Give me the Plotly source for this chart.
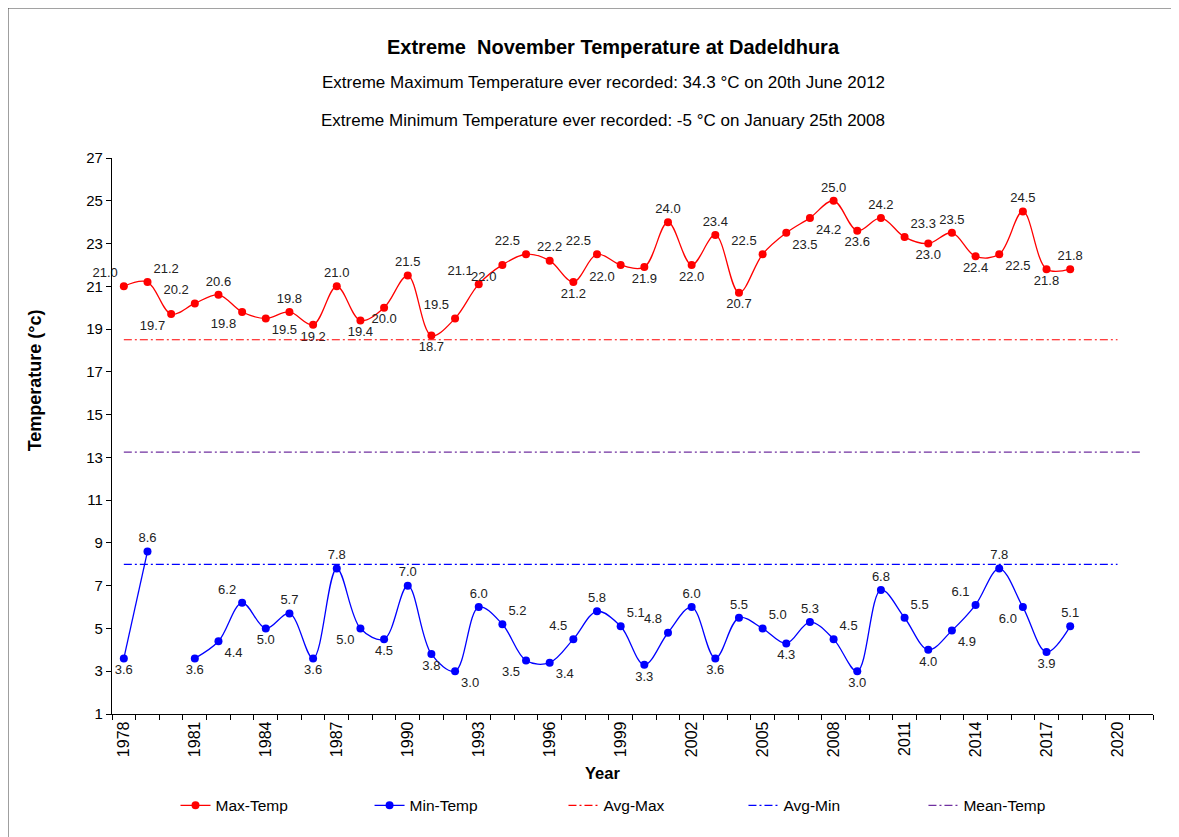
import plotly.graph_objects as go

years = list(range(1978, 2019))
max_temp = [21.0, 21.2, 19.7, 20.2, 20.6, 19.8, 19.5, 19.8, 19.2, 21.0,
            19.4, 20.0, 21.5, 18.7, 19.5, 21.1, 22.0, 22.5, 22.2, 21.2,
            22.5, 22.0, 21.9, 24.0, 22.0, 23.4, 20.7, 22.5, 23.5, 24.2,
            25.0, 23.6, 24.2, 23.3, 23.0, 23.5, 22.4, 22.5, 24.5, 21.8, 21.8]
min_temp = [3.6, 8.6, None, 3.6, 4.4, 6.2, 5.0, 5.7, 3.6, 7.8,
            5.0, 4.5, 7.0, 3.8, 3.0, 6.0, 5.2, 3.5, 3.4, 4.5,
            5.8, 5.1, 3.3, 4.8, 6.0, 3.6, 5.5, 5.0, 4.3, 5.3,
            4.5, 3.0, 6.8, 5.5, 4.0, 4.9, 6.1, 7.8, 6.0, 3.9, 5.1]
avg_max = 18.5
avg_min = 8.0
mean_temp = 13.25
avg_span = [1978, 2020]
mean_span = [1978, 2021]
x_tick_years = list(range(1978, 2021, 3))
y_ticks = list(range(1, 28, 2))

# label placement (style only)
T, B, TL, TR, BL, BR = "top center", "bottom center", "top left", "top right", "bottom left", "bottom right"
max_pos = [TL, TR, BL, TL, T, BL, BR, T, B, T,
           B, B, T, B, TL, TL, BL, TL, T, B,
           TL, BL, B, T, B, T, B, TL, BR, BR,
           T, B, T, TR, B, T, B, BR, T, B, T]
min_pos = [B, T, B, B, BR, TL, B, T, B, T,
           BL, B, T, B, BR, T, TR, BL, BR, TL,
           T, TR, B, TL, T, B, T, TR, B, T,
           TR, B, T, TR, B, BR, TL, T, BL, B, T]

FONT = "Arial, Liberation Sans, sans-serif"
RED = "#FF0000"
BLUE = "#0000FF"
PURPLE = "#7030A0"
DASH = "8px,3px,2px,3px"

fig = go.Figure()

fig.add_trace(go.Scatter(
    x=years, y=max_temp, name="Max-Temp", mode="lines+markers+text",
    line=dict(color=RED, width=1.3, shape="spline", smoothing=1.0),
    marker=dict(color=RED, size=8),
    text=[f"{v:.1f}" for v in max_temp], textposition=max_pos,
    textfont=dict(family=FONT, size=13, color="#222222"),
    legend="legend", cliponaxis=False,
))

fig.add_trace(go.Scatter(
    x=years, y=min_temp, name="Min-Temp", mode="lines+markers+text",
    line=dict(color=BLUE, width=1.3, shape="spline", smoothing=1.0),
    marker=dict(color=BLUE, size=8), connectgaps=False,
    text=[("" if v is None else f"{v:.1f}") for v in min_temp],
    textposition=min_pos,
    textfont=dict(family=FONT, size=13, color="#222222"),
    legend="legend2", cliponaxis=False,
))

fig.add_trace(go.Scatter(
    x=avg_span, y=[avg_max] * 2, name="Avg-Max", mode="lines",
    line=dict(color=RED, width=1.2, dash=DASH), legend="legend3",
))
fig.add_trace(go.Scatter(
    x=avg_span, y=[avg_min] * 2, name="Avg-Min", mode="lines",
    line=dict(color=BLUE, width=1.2, dash=DASH), legend="legend4",
))
fig.add_trace(go.Scatter(
    x=mean_span, y=[mean_temp] * 2, name="Mean-Temp", mode="lines",
    line=dict(color=PURPLE, width=1.2, dash=DASH), legend="legend5",
))

legend_style = dict(orientation="h", y=-0.165, xanchor="left", yanchor="middle",
                    font=dict(family=FONT, size=15.5, color="black"),
                    bgcolor="rgba(0,0,0,0)")

fig.update_layout(
    width=1179, height=837,
    margin=dict(l=104, r=34, t=150, b=131),
    paper_bgcolor="white", plot_bgcolor="white",
    font=dict(family=FONT, size=13, color="black"),
    showlegend=True,
    legend=dict(x=0.061, **legend_style),
    legend2=dict(x=0.2474, **legend_style),
    legend3=dict(x=0.4337, **legend_style),
    legend4=dict(x=0.6066, **legend_style),
    legend5=dict(x=0.7795, **legend_style),
    xaxis=dict(range=[1977.5, 2021.5], tickvals=x_tick_years,
               ticktext=[str(y) for y in x_tick_years], tickangle=-90,
               ticks="", showgrid=False, zeroline=False,
               showline=True, linecolor="black", linewidth=1.3,
               tickfont=dict(family=FONT, size=16, color="black"),
               minor=dict(tick0=1977.5, dtick=1, ticks="outside", ticklen=5,
                          tickcolor="black", tickwidth=1, showgrid=False)),
    yaxis=dict(range=[1, 27], tickvals=y_ticks, ticks="outside", ticklen=5,
               tickcolor="black", showgrid=False, zeroline=False,
               showline=True, linecolor="black", linewidth=1.3,
               tickfont=dict(family=FONT, size=15, color="black")),
)

fig.add_annotation(text="<b>Extreme  November Temperature at Dadeldhura</b>",
                   xref="paper", yref="paper", x=0.482, y=1.1996, showarrow=False,
                   font=dict(family=FONT, size=20, color="black"), yanchor="middle")
fig.add_annotation(text="Extreme Maximum Temperature ever recorded: 34.3 °C on 20th June 2012",
                   xref="paper", yref="paper", x=0.472, y=1.1349, showarrow=False,
                   font=dict(family=FONT, size=17, color="black"), yanchor="middle")
fig.add_annotation(text="Extreme Minimum Temperature ever recorded: -5 °C on January 25th 2008",
                   xref="paper", yref="paper", x=0.472, y=1.0683, showarrow=False,
                   font=dict(family=FONT, size=17, color="black"), yanchor="middle")
fig.add_annotation(text="<b>Year</b>", xref="paper", yref="paper", x=0.471, y=-0.106,
                   showarrow=False, font=dict(family=FONT, size=16.5, color="black"),
                   yanchor="middle")
fig.add_annotation(text="<b>Temperature (°c)</b>", xref="paper", yref="paper",
                   x=-0.074, y=0.60, textangle=-90, showarrow=False,
                   font=dict(family=FONT, size=18, color="black"),
                   xanchor="center", yanchor="middle")

fig.add_shape(type="rect", xref="paper", yref="paper",
              x0=-0.0999, x1=1.0183, y0=-0.25, y1=1.2698,
              line=dict(color="#404040", width=1), fillcolor="rgba(0,0,0,0)")

fig.write_html("out.html")
